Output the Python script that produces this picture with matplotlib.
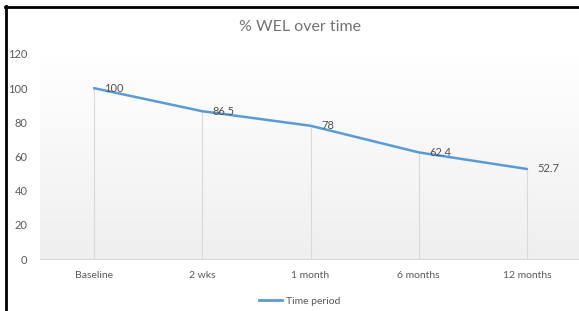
import matplotlib
matplotlib.use("Agg")
import matplotlib.pyplot as plt
import numpy as np
from matplotlib.lines import Line2D
from matplotlib.colors import LinearSegmentedColormap

categories = ["Baseline", "2 wks", "1 month", "6 months", "12 months"]
values = [100, 86.5, 78, 62.4, 52.7]
value_labels = ["100", "86.5", "78", "62.4", "52.7"]
yticks = [0, 20, 40, 60, 80, 100, 120]
title = "% WEL over time"
series_name = "Time period"

plt.rcParams['font.family'] = ['Lato', 'DejaVu Sans']

W, H = 579, 311
fig = plt.figure(figsize=(W / 100, H / 100), dpi=100)
fig.patch.set_facecolor("white")

left_px, right_px, top_px, bottom_px = 40, 581, 54, 259
ax = fig.add_axes([left_px / W, (H - bottom_px) / H,
                   (right_px - left_px) / W, (bottom_px - top_px) / H])
ax.set_xlim(-0.5, len(categories) - 0.5)
ax.set_ylim(0, 120)

# gradient background
grad = np.linspace(0, 1, 256).reshape(-1, 1)
cmap = LinearSegmentedColormap.from_list("g", ["#EFEFEF", "#FFFFFF"])
ax.imshow(grad, aspect="auto", cmap=cmap, origin="lower",
          extent=[-0.5, len(categories) - 0.5, 0, 120], zorder=0)

x = np.arange(len(categories))
# drop lines
ax.vlines(x, 0, values, colors="#D9D9D9", linewidth=0.8, zorder=1)
ax.plot(x, values, color="#5B9BD5", linewidth=1.8, zorder=3, solid_capstyle="round")

for xi, v, lab in zip(x, values, value_labels):
    ax.annotate(lab, (xi, v), xytext=(7.5, 0), textcoords="offset points",
                ha="left", va="center", fontsize=8, color="#505050", zorder=4)

for s in ["top", "right", "left"]:
    ax.spines[s].set_visible(False)
ax.spines["bottom"].set_color("#D9D9D9")
ax.spines["bottom"].set_linewidth(0.8)

ax.set_xticks(x)
ax.set_xticklabels(categories, fontsize=7.5, color="#595959")
ax.set_yticks(yticks)
ax.set_yticklabels([str(t) for t in yticks], fontsize=8, color="#595959")
ax.tick_params(axis="both", length=0)
ax.tick_params(axis="x", pad=9)
ax.tick_params(axis="y", pad=9)

fig.text(300 / W, 1 - 27 / H, title, ha="center", va="center",
         fontsize=11.5, color="#737373", fontweight="normal")

handle = Line2D([0], [0], color="#5B9BD5", linewidth=2)
fig.legend([handle], [series_name], loc="center", bbox_to_anchor=(300 / W, 1 - 301 / H),
           frameon=False, fontsize=7.5, handlelength=2.2, handletextpad=0.4,
           labelcolor="#595959")

# outer border (left and top)
fig.add_artist(Line2D([6 / W, 6 / W], [0, 1 - 6 / H], color="black", linewidth=2,
                      transform=fig.transFigure))
fig.add_artist(Line2D([5 / W, 1], [1 - 6.5 / H, 1 - 6.5 / H], color="black", linewidth=2,
                      transform=fig.transFigure))

fig.savefig("out.png", dpi=100)
